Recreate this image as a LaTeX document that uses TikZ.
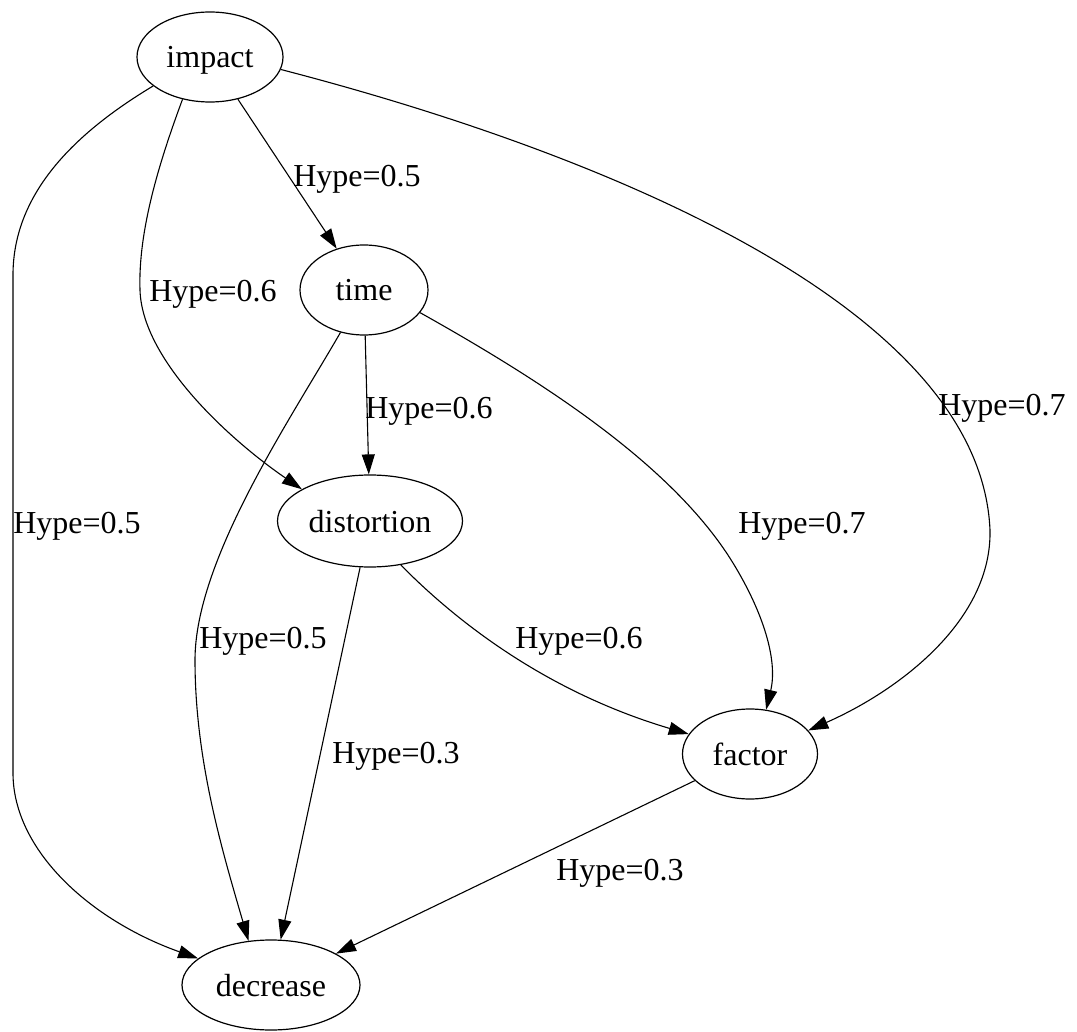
\documentclass[tikz,border=0pt]{standalone}
\usepackage{fontspec}
\setmainfont{Liberation Serif}
\usetikzlibrary{shapes.geometric,arrows.meta}
\begin{document}
\begin{tikzpicture}[x=1pt,y=-1pt,
  every node/.style={font=\fontsize{32}{38}\selectfont},
  vtx/.style={draw, ellipse, line width=1.2pt, inner sep=0pt, text height=22pt, text depth=0pt},
  lbl/.style={anchor=base, inner sep=0pt},
  edge/.style={line width=1.1pt, -{Triangle[length=20pt,width=13pt]}}
]
\fill[white] (0,0) rectangle (1077,1032);
\useasboundingbox (0,0) rectangle (1077,1032);

\node[vtx, minimum width=146pt, minimum height=90pt] (impact) at (210,57) {impact};
\node[vtx, minimum width=128pt, minimum height=90pt] (time) at (364,290) {time};
\node[vtx, minimum width=185pt, minimum height=92pt] (distortion) at (370,521) {distortion};
\node[vtx, minimum width=135pt, minimum height=90pt] (factor) at (750,754) {factor};
\node[vtx, minimum width=178pt, minimum height=90pt] (decrease) at (271,985) {decrease};

\draw[edge] (impact) -- (time);
\draw[edge] (time) -- (distortion);
\draw[edge] (distortion) -- (decrease);
\draw[edge] (factor) -- (decrease);
\draw[edge] (impact.207) .. controls (80,130) and (13,190) .. (13,275) -- (13,773) .. controls (13,850) and (90,920) .. (decrease.160);
\draw[edge] (impact.237) .. controls (160,160) and (138,230) .. (140,290) .. controls (142,360) and (230,440) .. (distortion.155);
\draw[edge] (time.241) .. controls (290,420) and (195,560) .. (195,660) .. controls (195,760) and (222,850) .. (decrease.117);
\draw[edge] (time.-22) .. controls (542,381) and (673,465) .. (733,563) .. controls (763,612) and (778,660) .. (factor.70);
\draw[edge] (impact.-10) .. controls (580,147) and (980,300) .. (990,530) .. controls (992,620) and (900,690) .. (factor.22);
\draw[edge] (distortion.-55) .. controls (450,615) and (540,690) .. (factor.162);

\node[lbl] (l1) at (357,187) {Hype=0.5};
\node[lbl] (l2) at (213,302) {Hype=0.6};
\node[lbl] (l3) at (77,533) {Hype=0.5};
\node[lbl] (l4) at (1002,416) {Hype=0.7};
\node[lbl] (l5) at (429,418) {Hype=0.6};
\node[lbl] (l6) at (263,648) {Hype=0.5};
\node[lbl] (l7) at (802,533) {Hype=0.7};
\node[lbl] (l8) at (579,648) {Hype=0.6};
\node[lbl] (l9) at (396,763) {Hype=0.3};
\node[lbl] (l10) at (620,880) {Hype=0.3};
\end{tikzpicture}
\end{document}
